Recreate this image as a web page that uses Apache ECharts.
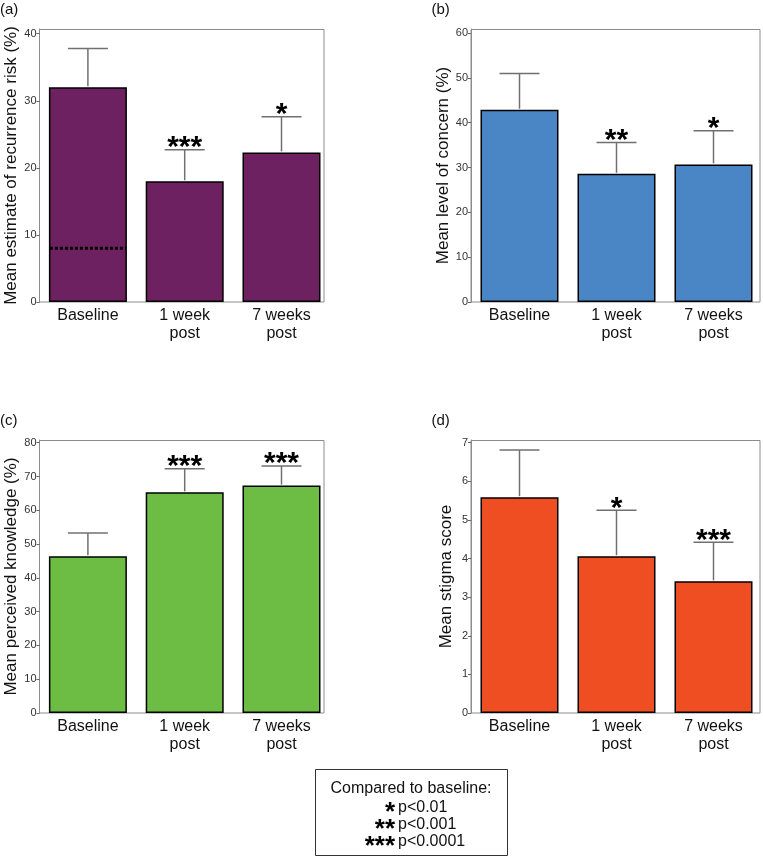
<!DOCTYPE html>
<html>
<head>
<meta charset="utf-8">
<script src="https://cdn.jsdelivr.net/npm/echarts@6/dist/echarts.min.js"></script>
<style>
html, body { margin: 0; padding: 0; background: #fff; }
#main { width: 763px; height: 863px; }
</style>
</head>
<body>
<div id="main"></div>
<script>
var categories = ['Baseline', '1 week\npost', '7 weeks\npost'];

// (a) recurrence risk
var riskMean = [32.0, 18.0, 22.3];
var riskUpper = [37.8, 22.7, 27.6];
var riskStars = ['', '***', '*'];
var riskTicks = [0, 10, 20, 30, 40];
var riskReference = 8;

// (b) level of concern
var concernMean = [42.9, 28.6, 30.7];
var concernUpper = [51.0, 35.6, 38.2];
var concernStars = ['', '**', '*'];
var concernTicks = [0, 10, 20, 30, 40, 50, 60];

// (c) perceived knowledge
var knowledgeMean = [46.4, 65.3, 67.3];
var knowledgeUpper = [53.3, 72.3, 73.1];
var knowledgeStars = ['', '***', '***'];
var knowledgeTicks = [0, 10, 20, 30, 40, 50, 60, 70, 80];

// (d) stigma score
var stigmaMean = [5.59, 4.06, 3.41];
var stigmaUpper = [6.81, 5.25, 4.42];
var stigmaStars = ['', '*', '***'];
var stigmaTicks = [0, 1, 2, 3, 4, 5, 6, 7];

var FONT = '"Liberation Sans", Arial, sans-serif';
var FRAME = '#8c8c8c';

// left/width place the categories, frameW is the drawn box
var panels = [
    {letter: '(a)', left: 39.5, top: 29, width: 290.4, frameW: 284.5, max: 40.7, ticks: riskTicks,
     mean: riskMean, upper: riskUpper, stars: riskStars, color: '#6e2161',
     name: 'Mean estimate of recurrence risk (%)', nameGap: 20},
    {letter: '(b)', left: 471, top: 29, width: 291, frameW: 289, max: 60.9, ticks: concernTicks,
     mean: concernMean, upper: concernUpper, stars: concernStars, color: '#4a86c6',
     name: 'Mean level of concern (%)', nameGap: 16},
    {letter: '(c)', left: 39.5, top: 440, width: 290.4, frameW: 284.5, max: 80.8, ticks: knowledgeTicks,
     mean: knowledgeMean, upper: knowledgeUpper, stars: knowledgeStars, color: '#6dbd45',
     name: 'Mean perceived knowledge (%)', nameGap: 20},
    {letter: '(d)', left: 471, top: 440, width: 291, frameW: 289, max: 7.07, ticks: stigmaTicks,
     mean: stigmaMean, upper: stigmaUpper, stars: stigmaStars, color: '#ef4e23',
     name: 'Mean stigma score', nameGap: 16}
];

var grids = [], xAxes = [], yAxes = [], series = [], graphics = [];

panels.forEach(function (p, i) {
    grids.push({left: p.left, top: p.top, width: p.width, height: 273});
    xAxes.push({
        gridIndex: i,
        type: 'category',
        data: categories,
        axisTick: {show: false},
        axisLine: {show: false},
        axisLabel: {interval: 0, fontSize: 16, color: '#111', lineHeight: 18, margin: 5, fontFamily: FONT}
    });
    yAxes.push({
        gridIndex: i,
        type: 'value',
        min: 0,
        max: p.max,
        name: p.name,
        nameLocation: 'middle',
        nameGap: p.nameGap,
        nameTextStyle: {fontSize: 17, color: '#111', fontFamily: FONT},
        axisLine: {show: true, lineStyle: {color: FRAME}},
        axisTick: {show: true, length: 3, customValues: p.ticks, lineStyle: {color: '#666'}},
        axisLabel: {customValues: p.ticks, fontSize: 11, color: '#333', margin: 3, fontFamily: FONT},
        splitLine: {show: false}
    });
    series.push({
        type: 'bar',
        xAxisIndex: i,
        yAxisIndex: i,
        data: p.mean,
        barWidth: 78,
        silent: true,
        itemStyle: {color: p.color, borderColor: '#000', borderWidth: 1.5}
    });
    series.push({
        type: 'custom',
        xAxisIndex: i,
        yAxisIndex: i,
        silent: true,
        z: 5,
        data: p.mean.map(function (m, j) { return [j, m, p.upper[j]]; }),
        encode: {x: 0, y: [1, 2]},
        renderItem: function (params, api) {
            var base = api.coord([api.value(0), api.value(1)]);
            var top = api.coord([api.value(0), api.value(2)]);
            var lineStyle = {stroke: '#707070', lineWidth: 1.5};
            return {
                type: 'group',
                children: [
                    {type: 'line', shape: {x1: base[0], y1: base[1] - 1, x2: top[0], y2: top[1]}, style: lineStyle},
                    {type: 'line', shape: {x1: top[0] - 20, y1: top[1], x2: top[0] + 20, y2: top[1]}, style: lineStyle},
                    {type: 'text', x: top[0], y: top[1] - 2,
                     style: {text: p.stars[params.dataIndex], fontSize: 30, fontWeight: 'bold', fill: '#000',
                             fontFamily: FONT, align: 'center', verticalAlign: 'middle'}}
                ]
            };
        }
    });
    // plot frame
    graphics.push({
        type: 'rect', z: 0,
        shape: {x: p.left, y: p.top + 0.5, width: p.frameW, height: 272.5},
        style: {fill: 'none', stroke: FRAME, lineWidth: 1}
    });
    graphics.push({
        type: 'text', left: p.left - 39.5, top: p.top - 27,
        style: {text: p.letter, fontSize: 15, fill: '#111', fontFamily: FONT}
    });
});

// dotted reference line on the baseline bar of (a)
series.push({
    type: 'custom',
    xAxisIndex: 0,
    yAxisIndex: 0,
    silent: true,
    z: 6,
    data: [[0, riskReference]],
    encode: {x: 0, y: 1},
    renderItem: function (params, api) {
        var c = api.coord([api.value(0), api.value(1)]);
        return {
            type: 'line',
            shape: {x1: c[0] - 38, y1: c[1], x2: c[0] + 38, y2: c[1]},
            style: {stroke: '#000', lineWidth: 3, lineDash: [3, 2]}
        };
    }
});

// significance key
var keyLines = [['*', 'p<0.01'], ['**', 'p<0.001'], ['***', 'p<0.0001']];
graphics.push({
    type: 'rect', left: 315, top: 769,
    shape: {width: 192, height: 86},
    style: {fill: '#fff', stroke: '#333', lineWidth: 1}
});
graphics.push({
    type: 'text', x: 411, y: 789,
    style: {text: 'Compared to baseline:', fontSize: 16, fill: '#111', fontFamily: FONT, align: 'center', verticalAlign: 'middle'}
});
keyLines.forEach(function (k, j) {
    var y = 808 + j * 17;
    graphics.push({
        type: 'text', x: 395, y: y + 5,
        style: {text: k[0], fontSize: 26, fontWeight: 'bold', fill: '#000', fontFamily: FONT, align: 'right', verticalAlign: 'middle'}
    });
    graphics.push({
        type: 'text', x: 398, y: y,
        style: {text: k[1], fontSize: 16, fill: '#111', fontFamily: FONT, align: 'left', verticalAlign: 'middle'}
    });
});

var chart = echarts.init(document.getElementById('main'));
chart.setOption({
    backgroundColor: '#fff',
    animation: false,
    textStyle: {fontFamily: FONT},
    grid: grids,
    xAxis: xAxes,
    yAxis: yAxes,
    series: series,
    graphic: graphics
});

window.addEventListener('resize', function () {
    chart.resize();
});
</script>
</body>
</html>
